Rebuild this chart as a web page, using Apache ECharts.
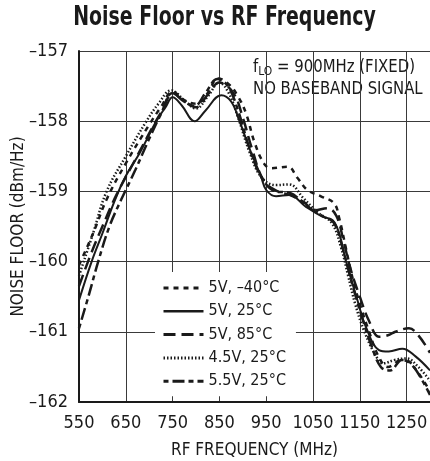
<!DOCTYPE html>
<html>
<head>
<meta charset="utf-8">
<script src="https://cdn.jsdelivr.net/npm/echarts@6.0.0/dist/echarts.min.js"></script>
<style>
  html, body { margin: 0; padding: 0; background: #fff; }
  #chart { width: 430px; height: 461px; }
</style>
</head>
<body>
<div id="chart"></div>
<script>
var font = "'Liberation Sans Narrow', 'DejaVu Sans Condensed', 'Liberation Sans', sans-serif";
var ink = '#1a1a1a';

// x ticks (MHz) and y ticks (dBm/Hz)
var xTicks = [550, 650, 750, 850, 950, 1050, 1150, 1250];
var yTicks = [-162, -161, -160, -159, -158, -157];
var yTickLabels = ['–162', '–161', '–160', '–159', '–158', '–157'];

var seriesNames = ['5V, –40°C', '5V, 25°C', '5V, 85°C', '4.5V, 25°C', '5.5V, 25°C'];

// [frequency MHz, noise floor dBm/Hz]
var v5m40 = [
  [550, -160.05], [580, -159.6], [610, -159.1], [650, -158.6], [700, -158.05],
  [725, -157.8], [750, -157.58], [775, -157.7], [800, -157.75], [825, -157.6],
  [847, -157.39], [871, -157.48], [890, -157.65], [907, -157.89], [925, -158.3],
  [945, -158.6], [960, -158.67], [996, -158.65], [1017, -158.81], [1038, -158.98],
  [1067, -159.07], [1095, -159.17], [1106, -159.38], [1120, -159.8], [1135, -160.25],
  [1150, -160.6], [1170, -161.0], [1190, -161.35], [1210, -161.5], [1240, -161.4],
  [1265, -161.5], [1300, -161.85]
];
var v5t25 = [
  [550, -160.55], [577, -160.0], [600, -159.6], [627, -159.12], [650, -158.78],
  [680, -158.45], [715, -158.0], [735, -157.8], [750, -157.66], [770, -157.78],
  [797, -158.0], [820, -157.85], [854, -157.63], [875, -157.72], [893, -158.0],
  [915, -158.4], [939, -158.79], [950, -158.98], [971, -159.07], [999, -159.05],
  [1035, -159.22], [1070, -159.36], [1092, -159.41], [1106, -159.6], [1120, -159.98],
  [1145, -160.55], [1163, -160.93], [1191, -161.26], [1212, -161.28], [1241, -161.24],
  [1269, -161.35], [1300, -161.55]
];
var v5t85 = [
  [550, -160.35], [575, -159.9], [600, -159.5], [630, -159.05], [670, -158.55],
  [710, -158.05], [730, -157.82], [750, -157.6], [775, -157.72], [800, -157.8],
  [825, -157.62], [850, -157.45], [880, -157.6], [900, -157.95], [920, -158.4],
  [945, -158.85], [975, -159.0], [1000, -159.05], [1030, -159.15], [1053, -159.27],
  [1081, -159.24], [1100, -159.35], [1115, -159.7], [1130, -160.1], [1150, -160.5],
  [1170, -160.85], [1191, -161.07], [1210, -161.05], [1226, -161.0], [1255, -160.95],
  [1275, -161.05], [1300, -161.3]
];
var v45t25 = [
  [550, -160.2], [580, -159.6], [609, -159.0], [650, -158.5], [694, -158.0],
  [720, -157.75], [747, -157.56], [775, -157.7], [800, -157.82], [825, -157.65],
  [850, -157.45], [870, -157.6], [890, -157.95], [915, -158.45], [940, -158.8],
  [971, -158.91], [999, -158.9], [1030, -159.1], [1060, -159.3], [1090, -159.45],
  [1110, -159.8], [1125, -160.2], [1140, -160.6], [1160, -161.0], [1185, -161.35],
  [1200, -161.45], [1225, -161.4], [1250, -161.38], [1275, -161.5], [1300, -161.7]
];
var v55t25 = [
  [550, -160.95], [570, -160.5], [591, -160.0], [615, -159.5], [640, -159.12],
  [670, -158.7], [700, -158.25], [725, -157.9], [750, -157.6], [775, -157.72],
  [797, -157.78], [820, -157.6], [846, -157.4], [868, -157.5], [890, -157.85],
  [915, -158.4], [940, -158.8], [970, -159.0], [1000, -159.02], [1035, -159.2],
  [1070, -159.35], [1095, -159.45], [1115, -159.85], [1135, -160.35], [1155, -160.8],
  [1175, -161.2], [1195, -161.5], [1215, -161.55], [1240, -161.4], [1260, -161.45],
  [1300, -161.9]
];

var chart = echarts.init(document.getElementById('chart'), null, { renderer: 'canvas' });

var lineWidths = [2.5, 2, 2.5, 2.5, 2.5];
var lineDashes = [[5, 5], 'solid', [12, 6], [1.5, 2], [5, 4, 12, 4]];

function curve (i, data) {
  return {
    name: seriesNames[i],
    type: 'line',
    data: data,
    smooth: 0.4,
    symbol: 'none',
    lineStyle: { color: ink, width: lineWidths[i], type: lineDashes[i], cap: 'butt' },
    itemStyle: { color: ink }
  };
}

chart.setOption({
  animation: false,
  backgroundColor: '#fff',
  grid: {
    left: 79, top: 51, right: 0, bottom: 59,
    containLabel: false,
    outerBoundsMode: 'none'
  },
  legend: {
    orient: 'vertical',
    left: 155,
    top: 272,
    padding: [8, 10, 7, 7],
    backgroundColor: '#fff',
    itemWidth: 40,
    itemHeight: 14,
    itemGap: 7.3,
    itemStyle: { opacity: 0 },
    data: seriesNames.map(function (n, i) {
      return { name: n, lineStyle: { width: lineWidths[i] + 0.5 } };
    }),
    textStyle: { fontFamily: font, fontSize: 16, color: ink }
  },
  xAxis: {
    type: 'value',
    min: 550,
    max: 1300,
    interval: 100,
    name: 'RF FREQUENCY (MHz)',
    nameLocation: 'middle',
    nameGap: 40,
    nameTextStyle: { fontFamily: font, fontSize: 17, color: ink },
    axisLine: { lineStyle: { color: ink, width: 2 } },
    axisTick: { show: false },
    axisLabel: {
      fontFamily: font, fontSize: 18, color: ink, margin: 12,
      showMaxLabel: false,
      formatter: function (v) { return xTicks.indexOf(v) !== -1 ? String(v) : ''; }
    },
    splitLine: { show: true, lineStyle: { color: '#3a3a3a', width: 1 } }
  },
  yAxis: {
    type: 'value',
    min: -162,
    max: -157,
    interval: 1,
    name: 'NOISE FLOOR (dBm/Hz)',
    nameLocation: 'middle',
    nameGap: 52,
    nameMoveOverlap: false,
    nameTextStyle: { fontFamily: font, fontSize: 17, color: ink },
    axisLine: { show: true, lineStyle: { color: ink, width: 2 } },
    axisTick: { show: false },
    axisLabel: {
      fontFamily: font, fontSize: 18, color: ink, margin: 11,
      formatter: function (v) {
        var i = yTicks.indexOf(v);
        return i !== -1 ? yTickLabels[i] : '';
      }
    },
    splitLine: { show: true, lineStyle: { color: '#3a3a3a', width: 1 } }
  },
  graphic: [{
    // chart title, squeezed to the condensed width of the original
    type: 'text',
    x: 224.5,
    y: 5,
    scaleX: 0.81,
    style: {
      text: 'Noise Floor vs RF Frequency',
      align: 'center',
      fontFamily: font,
      fontSize: 26,
      fontWeight: 'bold',
      fill: ink
    }
  }, {
    type: 'text',
    x: 253,
    y: 56,
    scaleX: 0.92,
    style: {
      text: '{a|f}{b|LO}{a| = 900MHz (FIXED)}',
      align: 'left',
      rich: {
        a: { fontFamily: font, fontSize: 18, lineHeight: 22, fill: ink },
        b: { fontFamily: font, fontSize: 13, lineHeight: 13, padding: [10, 0, 0, 0], fill: ink }
      }
    }
  }, {
    type: 'text',
    x: 253,
    y: 80,
    scaleX: 0.92,
    style: {
      text: 'NO BASEBAND SIGNAL',
      align: 'left',
      fontFamily: font,
      fontSize: 18,
      fill: ink
    }
  }],
  series: [
    curve(0, v5m40),
    curve(1, v5t25),
    curve(2, v5t85),
    curve(3, v45t25),
    curve(4, v55t25)
  ]
});
</script>
</body>
</html>
